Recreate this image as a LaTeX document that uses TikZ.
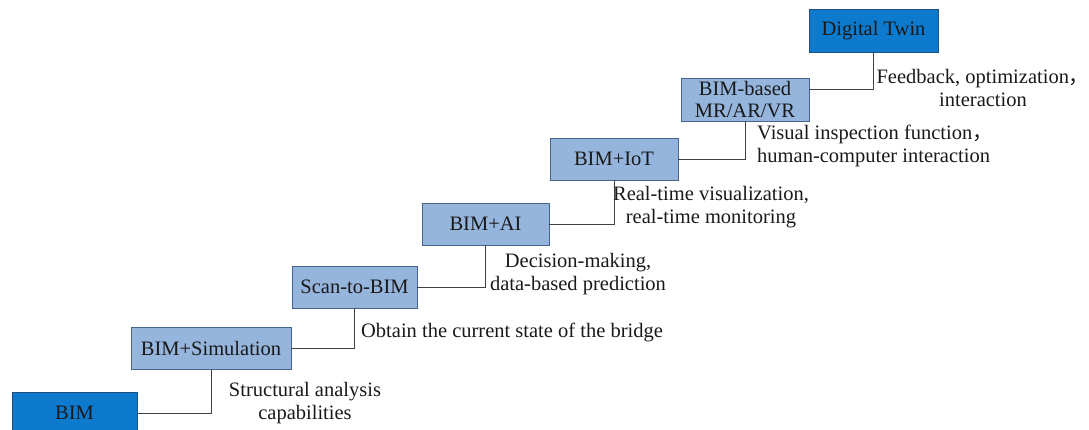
\documentclass[tikz,border=0pt]{standalone}
\usepackage{fontspec}
\setmainfont{Liberation Serif}
\newfontfamily\cjk{Noto Sans CJK SC}
\definecolor{lightbox}{RGB}{149,181,221}
\definecolor{lightedge}{RGB}{70,100,140}
\definecolor{darkbox}{RGB}{14,122,206}
\definecolor{darkedge}{RGB}{30,80,130}

\begin{document}
\begin{tikzpicture}[x=1pt, y=-1pt]
	\tikzstyle{every node} = [font=\fontsize{20.5}{23}\selectfont, text=black!90]
	\tikzstyle{stage} = [draw=lightedge, fill=lightbox, line width=0.8pt, minimum height=42pt, inner sep=0pt, align=center, font=\fontsize{20.5}{21.5}\selectfont]
	\tikzstyle{endstage} = [stage, draw=darkedge, fill=darkbox]
	\tikzstyle{gain} = [align=center, inner sep=0pt]
	\useasboundingbox (0,0) rectangle (1089,430);
	\clip (0,0) rectangle (1089,430);
	\node [endstage, minimum width=125pt] (BIM) at (74.5, 413) {BIM};
	\node [stage, minimum width=160pt] (Sim) at (211, 348.5) {BIM+Simulation};
	\node [stage, minimum width=125pt] (Scan) at (354.5, 287) {Scan-to-BIM};
	\node [stage, minimum width=127pt] (AI) at (485.5, 224) {BIM+AI};
	\node [stage, minimum width=128pt] (IoT) at (614, 159) {BIM+IoT};
	\node [stage, minimum width=128pt, minimum height=43pt] (MR) at (745, 99.5) {BIM-based\\MR/AR/VR};
	\node [endstage, minimum width=129pt, minimum height=43pt] (DT) at (873.5, 30.5) {Digital Twin};
	\node [gain] (capA) at (305, 403) {Structural analysis\\capabilities};
	\node [gain] (capB) at (512, 332) {Obtain the current state of the bridge};
	\node [gain] (capC) at (578, 274) {Decision-making,\\data-based prediction};
	\node [gain] (capD) at (711, 207) {Real-time visualization,\\real-time monitoring};
	\node [gain, align=left, anchor=west] (capE) at (757, 146) {Visual inspection function{\cjk ，}\\human-computer interaction};
	\node [gain] (capF) at (983, 88) {Feedback, optimization{\cjk ，}\\interaction};
	\draw [-, line width=0.9pt, black!75] (BIM.east) -| (Sim.south);
	\draw [-, line width=0.9pt, black!75] (Sim.east) -| (Scan.south);
	\draw [-, line width=0.9pt, black!75] (Scan.east) -| (AI.south);
	\draw [-, line width=0.9pt, black!75] (AI.east) -| (IoT.south);
	\draw [-, line width=0.9pt, black!75] (IoT.east) -| (MR.south);
	\draw [-, line width=0.9pt, black!75] ([yshift=10.5pt]MR.east) -| (DT.south);
\end{tikzpicture}
\end{document}
